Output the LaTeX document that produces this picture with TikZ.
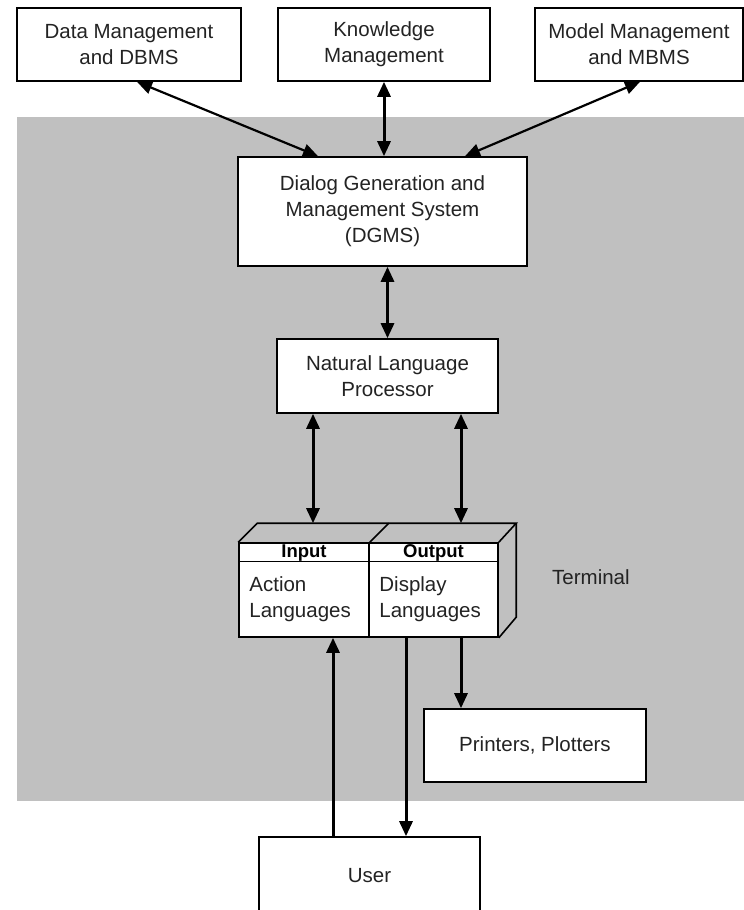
\documentclass[tikz,border=0pt]{standalone}
\usepackage{fontspec}
\setmainfont{Liberation Sans}
\usetikzlibrary{positioning, arrows.meta, calc}
\definecolor{fondo}{RGB}{192,192,192}
\definecolor{tinta}{RGB}{35,35,35}
\tikzstyle{caja} = [draw=black, fill=white, line width=1.6pt, rectangle, inner sep=0pt, align=center, text=tinta, font=\fontsize{20.5}{26}\selectfont]
\tikzstyle{texto} = [inner sep=0pt, text=tinta, font=\fontsize{20.5}{26}\selectfont]
\tikzstyle{cabecera} = [inner sep=0pt, anchor=base, text=black, font=\fontsize{18.5}{22}\selectfont\bfseries]
\tikzstyle{flecha} = [line width=3pt, {Triangle[length=15pt,width=13pt]}-{Triangle[length=15pt,width=13pt]}]
\tikzstyle{ida} = [line width=3pt, -{Triangle[length=15pt,width=13pt]}]

\begin{document}
\begin{tikzpicture}[x=1pt,y=-1pt]
	\clip (0,0) rectangle (744,910);
	\fill[fondo] (17,117) rectangle (744,801);
	% top row
	\node[caja, minimum width=224pt, minimum height=73pt] (datos) at (129,44.5) {Data Management\\and DBMS};
	\node[caja, minimum width=212pt, minimum height=73pt] (conoc) at (384,44.5) {Knowledge\\Management};
	\node[caja, minimum width=208pt, minimum height=73pt] (modelo) at (639,44.5) {Model Management\\and MBMS};
	\node[caja, minimum width=289pt, minimum height=109pt] (dgms) at (382.5,211.5) {Dialog Generation and\\Management System\\(DGMS)};
	\node[caja, minimum width=221pt, minimum height=74pt] (nlp) at (387.5,376) {Natural Language\\Processor};
	% terminal
	\node[caja, minimum width=130pt, minimum height=94pt] (entrada) at (304,590) {};
	\node[caja, minimum width=129pt, minimum height=94pt] (salida) at (433.5,590) {};
	\draw[line width=1.6pt] (entrada.north west) -- ++(19,-19) -- ++(259,0) coordinate (tapa) -- (salida.north east);
	\draw[line width=1.6pt] (entrada.north east) -- ++(19,-19);
	\draw[line width=1.6pt] (tapa) -- ++(0,94) -- (salida.south east);
	\draw[line width=1.1pt] ([yshift=-19pt]entrada.north west) -- ([yshift=-19pt]salida.north east);
	\node[cabecera] (tEntrada) at ($(entrada.north)+(0,15)$) {Input};
	\node[cabecera] (tSalida) at ($(salida.north)+(0,15)$) {Output};
	\node[texto, anchor=north west, align=left] (lEntrada) at ($(entrada.north west)+(11,34)$) {Action\\Languages};
	\node[texto, anchor=north west, align=left] (lSalida) at ($(salida.north west)+(11,34)$) {Display\\Languages};
	\node[texto, anchor=west] (terminal) at (552,577) {Terminal};
	\node[caja, minimum width=222pt, minimum height=73pt] (impresoras) at (535,745.5) {Printers, Plotters};
	\node[caja, minimum width=221pt, minimum height=78pt] (usuario) at (369.5,876) {User};
	% connectors
	\draw[flecha, line width=2.2pt] ([xshift=8pt]datos.south) -- ([xshift=-64.5pt]dgms.north);
	\draw[flecha] (conoc.south) -- (conoc.south |- dgms.north);
	\draw[flecha, line width=2.2pt] ([xshift=1pt]modelo.south) -- ([xshift=82.5pt]dgms.north);
	\draw[flecha] (nlp.north) -- (nlp.north |- dgms.south);
	\draw[flecha] ([xshift=-74.5pt]nlp.south) -- ([xshift=-74.5pt]nlp.south |- tapa);
	\draw[flecha] ([xshift=73.5pt]nlp.south) -- ([xshift=73.5pt]nlp.south |- tapa);
	\draw[ida] ([xshift=-36.5pt]usuario.north) -- ([xshift=-36.5pt]usuario.north |- entrada.south);
	\draw[ida] ([xshift=-27.5pt]salida.south) -- ([xshift=-27.5pt]salida.south |- usuario.north);
	\draw[ida] ([xshift=-74pt]impresoras.north |- salida.south) -- ([xshift=-74pt]impresoras.north);
\end{tikzpicture}
\end{document}
